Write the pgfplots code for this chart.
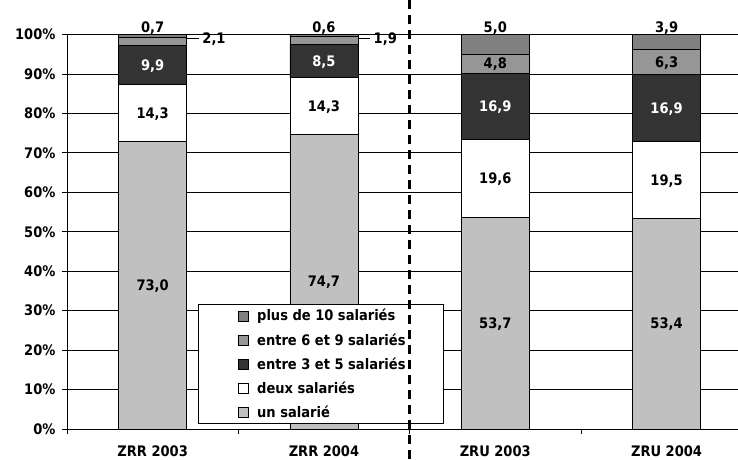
\documentclass[border=0pt]{standalone}
\usepackage{fontspec}
\setmainfont{DejaVu Sans Condensed}
\usepackage{pgfplots}
\pgfplotsset{compat=1.18}
\definecolor{cun}{HTML}{C0C0C0}
\definecolor{cdeux}{HTML}{FFFFFF}
\definecolor{ctrois}{HTML}{333333}
\definecolor{csix}{HTML}{969696}
\definecolor{cdix}{HTML}{808080}
\newcommand{\vb}{\bfseries\fontsize{14.5}{17}\selectfont}
\newcommand{\legent}[1]{\makebox[150pt][l]{\hspace{6pt}#1}}
\tikzset{vl/.style={font=\vb, anchor=base, yshift=-5.3pt}, vt/.style={font=\vb, anchor=base, yshift=2.5pt}}
\begin{document}
\begin{tikzpicture}
\begin{axis}[
  name=ax, at={(0,0)}, anchor=south west,
  scale only axis, width=671pt, height=394.5pt,
  xmin=-0.5, xmax=3.417, ymin=0, ymax=100,
  ybar stacked, bar width=68pt,
  axis lines=left, axis line style={-, line width=0.8pt},
  tick align=outside, major tick length=5pt,
  tick style={black, line width=0.8pt},
  ymajorgrids, grid style={black, line width=0.8pt},
  ytick={0,10,...,100},
  /pgf/number format/assume math mode=true,
  yticklabel={\pgfmathprintnumber{\tick}\%},
  yticklabel style={xshift=-3pt},
  xtick={-0.5,0.5,1.5,2.5}, xticklabels={},
  extra x ticks={0,1,2,3},
  extra x tick labels={ZRR 2003,ZRR 2004,ZRU 2003,ZRU 2004},
  extra x tick style={major tick length=0pt, xticklabel style={yshift=-13pt}},
  ticklabel style={font=\vb},
  clip=false,
  reverse legend,
  legend image code/.code={\draw[#1, line width=0.8pt] (0pt,-5pt) rectangle (10pt,5pt);},
  legend style={at={(0.1952,0.3169)}, anchor=north west, draw=black, line width=0.8pt,
    font=\vb, inner xsep=40pt, inner ysep=3pt, row sep=7pt, cells={anchor=west}},
]
\addplot[fill=cun, draw=black, line width=0.8pt] coordinates {(0,73.0) (1,74.7) (2,53.7) (3,53.4)};
\addplot[fill=cdeux, draw=black, line width=0.8pt] coordinates {(0,14.3) (1,14.3) (2,19.6) (3,19.5)};
\addplot[fill=ctrois, draw=black, line width=0.8pt] coordinates {(0,9.9) (1,8.5) (2,16.9) (3,16.9)};
\addplot[fill=csix, draw=black, line width=0.8pt] coordinates {(0,2.1) (1,1.9) (2,4.8) (3,6.3)};
\addplot[fill=cdix, draw=black, line width=0.8pt] coordinates {(0,0.7) (1,0.6) (2,5.0) (3,3.9)};
\legend{\legent{un salarié},\legent{deux salariés},\legent{entre 3 et 5 salariés},\legent{entre 6 et 9 salariés},\legent{plus de 10 salariés}}
\coordinate (a1) at (axis cs:0,36.5);
\coordinate (a2) at (axis cs:0,80.15);
\coordinate (a3) at (axis cs:0,92.25);
\coordinate (a4) at (axis cs:0,100);
\coordinate (a5a) at (axis cs:0.2,98.9);
\coordinate (a5b) at (axis cs:0.27,98.9);
\coordinate (b1) at (axis cs:1,37.35);
\coordinate (b2) at (axis cs:1,81.85);
\coordinate (b3) at (axis cs:1,93.25);
\coordinate (b4) at (axis cs:1,100);
\coordinate (b5a) at (axis cs:1.2,98.9);
\coordinate (b5b) at (axis cs:1.27,98.9);
\coordinate (c1) at (axis cs:2,26.85);
\coordinate (c2) at (axis cs:2,63.5);
\coordinate (c3) at (axis cs:2,81.75);
\coordinate (c4) at (axis cs:2,92.6);
\coordinate (c5) at (axis cs:2,100);
\coordinate (d1) at (axis cs:3,26.7);
\coordinate (d2) at (axis cs:3,63.15);
\coordinate (d3) at (axis cs:3,81.35);
\coordinate (d4) at (axis cs:3,92.95);
\coordinate (d5) at (axis cs:3,100);
\coordinate (s1) at (axis cs:1.5,-7.6);
\coordinate (s2) at (axis cs:1.5,108.75);
\end{axis}
\node[vl] at (a1) {73,0};
\node[vl] at (a2) {14,3};
\node[vl, text=white] at (a3) {9,9};
\node[vt] at (a4) {0,7};
\draw[black, line width=0.8pt] (a5a) -- (a5b);
\node[font=\vb, anchor=west] at (a5b) {2,1};
\node[vl] at (b1) {74,7};
\node[vl] at (b2) {14,3};
\node[vl, text=white] at (b3) {8,5};
\node[vt] at (b4) {0,6};
\draw[black, line width=0.8pt] (b5a) -- (b5b);
\node[font=\vb, anchor=west] at (b5b) {1,9};
\node[vl] at (c1) {53,7};
\node[vl] at (c2) {19,6};
\node[vl, text=white] at (c3) {16,9};
\node[vl] at (c4) {4,8};
\node[vt] at (c5) {5,0};
\node[vl] at (d1) {53,4};
\node[vl] at (d2) {19,5};
\node[vl, text=white] at (d3) {16,9};
\node[vl] at (d4) {6,3};
\node[vt] at (d5) {3,9};
\draw[black, line width=2.4pt, dash pattern=on 9pt off 6pt] (s1) -- (s2);
\pgfresetboundingbox
\path (-67pt,-30pt) rectangle (671pt,429pt);
\end{tikzpicture}
\end{document}
